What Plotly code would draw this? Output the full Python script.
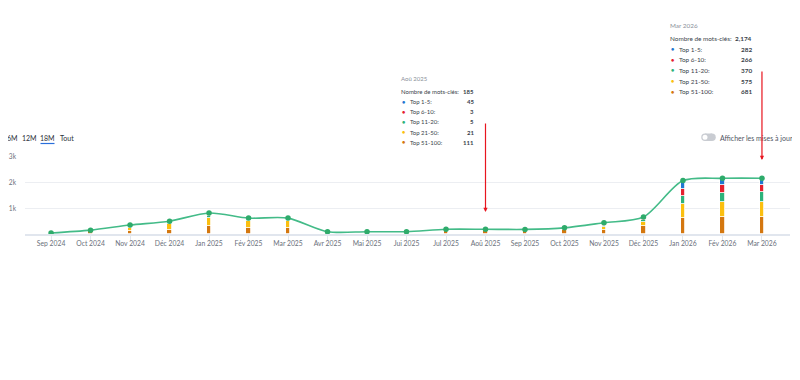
import plotly.graph_objects as go

months = ["Sep 2024", "Oct 2024", "Nov 2024", "Déc 2024", "Jan 2025", "Fév 2025", "Mar 2025",
          "Avr 2025", "Mai 2025", "Jui 2025", "Jul 2025", "Aoû 2025", "Sep 2025", "Oct 2025",
          "Nov 2025", "Déc 2025", "Jan 2026", "Fév 2026", "Mar 2026"]
total = [40, 150, 350, 500, 820, 620, 620, 90, 90, 90, 185, 185, 180, 240, 440, 660, 2080, 2170, 2174]
top_1_5 = [5, 15, 40, 40, 60, 40, 40, 12, 12, 12, 45, 45, 42, 20, 70, 70, 310, 280, 282]
top_6_10 = [2, 5, 20, 30, 50, 30, 30, 3, 3, 3, 3, 3, 3, 10, 40, 60, 300, 300, 266]
top_11_20 = [3, 10, 40, 50, 80, 50, 50, 5, 5, 5, 5, 5, 5, 20, 60, 70, 320, 350, 370]
top_21_50 = [5, 20, 150, 230, 330, 270, 270, 10, 10, 10, 21, 21, 20, 30, 120, 160, 545, 560, 575]
top_51_100 = [25, 100, 100, 150, 300, 230, 230, 60, 60, 60, 111, 111, 110, 160, 150, 300, 605, 680, 681]

series_names = ["Top 1-5:", "Top 6-10:", "Top 11-20:", "Top 21-50:", "Top 51-100:"]
series_colors = ["#1f78d1", "#e5202e", "#2db27a", "#fbbf0f", "#d4770f"]
ytick_vals = [1000, 2000, 3000]
ytick_text = ["1k", "2k", "3k"]
range_buttons = ["6M", "12M", "18M", "Tout"]

OFF = 8  # page body margin
W, H = 800 - OFF, 380 - 2 * OFF
L, T = 25 - OFF, 157 - OFF
R = W - (790 - OFF)
B = H - (234 - OFF)
PW, PH = W - L - R, H - T - B
PAD = 2  # annotation inner padding


def px(xp):
    return (xp - OFF - L) / PW


def py(yp):
    return (H - B - (yp - OFF)) / PH


fig = go.Figure()
stack = [(top_51_100, series_colors[4]), (top_21_50, series_colors[3]), (top_11_20, series_colors[2]),
         (top_6_10, series_colors[1]), (top_1_5, series_colors[0])]
for vals, col in stack:
    fig.add_trace(go.Bar(x=months, y=vals, marker=dict(color=col, line=dict(color="white", width=0.8)),
                         width=0.11, hoverinfo="skip", showlegend=False))

fig.add_trace(go.Scatter(x=months, y=total, mode="lines+markers",
                         line=dict(color="#43bb88", width=1.6, shape="spline", smoothing=0.8),
                         marker=dict(color="#2eab6b", size=5.5), hoverinfo="skip", showlegend=False))

FONT = "Lato, 'Open Sans', sans-serif"
ann = []
shapes = []

# range buttons
btn_x = [12.8, 29.2, 47.5, 66.8]
for t, xc in zip(range_buttons, btn_x):
    ann.append(dict(text=t, x=px(xc), y=py(137.5), xref="paper", yref="paper", showarrow=False,
                    xanchor="center", yanchor="middle", borderpad=0,
                    font=dict(family=FONT, size=7, color="#2b2f38")))
shapes.append(dict(type="line", xref="paper", yref="paper", x0=px(40.5), x1=px(54.5), y0=py(143.5), y1=py(143.5),
                   line=dict(color="#2a6fdb", width=1.2)))

# toggle
shapes.append(dict(type="rect", xref="paper", yref="paper", x0=px(705), x1=px(712), y0=py(133.5), y1=py(141),
                   fillcolor="#c9ccd2", line=dict(width=0)))
for cx in (705, 712):
    shapes.append(dict(type="circle", xref="paper", yref="paper", x0=px(cx - 3.75), x1=px(cx + 3.75),
                       y0=py(133.5), y1=py(141), fillcolor="#c9ccd2", line=dict(width=0)))
shapes.append(dict(type="circle", xref="paper", yref="paper", x0=px(702.5), x1=px(707.5),
                   y0=py(134.8), y1=py(139.8), fillcolor="white", line=dict(width=0)))
ann.append(dict(text="Afficher les mises à jour", x=px(720 - PAD), y=py(137.5), xref="paper", yref="paper",
                showarrow=False, xanchor="left", yanchor="middle", font=dict(family=FONT, size=7, color="#50555f")))


def tooltip(idx, title_xy, ny, row0_y, step, dot_x, lab_x, val_x, size):
    vals = [top_1_5[idx], top_6_10[idx], top_11_20[idx], top_21_50[idx], top_51_100[idx]]
    ann.append(dict(text=months[idx], x=px(title_xy[0] - PAD), y=py(title_xy[1]), xref="paper", yref="paper",
                    showarrow=False, xanchor="left", yanchor="middle",
                    font=dict(family=FONT, size=size, color="#8a8f99")))
    ann.append(dict(text="Nombre de mots-clés:", x=px(title_xy[0] - PAD), y=py(ny), xref="paper", yref="paper",
                    showarrow=False, xanchor="left", yanchor="middle",
                    font=dict(family=FONT, size=size, color="#3a3f4a")))
    ann.append(dict(text="<b>" + f"{total[idx]:,}" + "</b>", x=px(val_x + PAD), y=py(ny), xref="paper",
                    yref="paper", showarrow=False, xanchor="right", yanchor="middle",
                    font=dict(family=FONT, size=size, color="#3a3f4a")))
    for i, (nm, col, v) in enumerate(zip(series_names, series_colors, vals)):
        yy = row0_y + i * step
        ann.append(dict(text="●", x=px(dot_x), y=py(yy), xref="paper", yref="paper", showarrow=False,
                        xanchor="center", yanchor="middle", font=dict(size=5.5, color=col)))
        ann.append(dict(text=nm, x=px(lab_x - PAD), y=py(yy), xref="paper", yref="paper", showarrow=False,
                        xanchor="left", yanchor="middle", font=dict(family=FONT, size=size, color="#3a3f4a")))
        ann.append(dict(text="<b>" + f"{v:,}" + "</b>", x=px(val_x + PAD), y=py(yy), xref="paper", yref="paper",
                        showarrow=False, xanchor="right", yanchor="middle",
                        font=dict(family=FONT, size=size, color="#3a3f4a")))


tooltip(11, (401, 79), 91, 101.5, 10.2, 403.5, 409.5, 474, 6.0)
tooltip(18, (670, 25), 38.5, 49, 10.7, 672, 678.5, 751.5, 6.4)

# red arrows
for idx, head, tail in ((11, 212, 122), (18, 160, 70)):
    ann.append(dict(text="", x=months[idx], xref="x", y=py(head), yref="paper", ax=0, ay=-(head - tail),
                    showarrow=True, arrowhead=2, arrowsize=0.7, arrowwidth=1.2, arrowcolor="#e8151f"))

fig.update_layout(
    width=W, height=H, margin=dict(l=L, r=R, t=T, b=B, autoexpand=False),
    paper_bgcolor="white", plot_bgcolor="white", barmode="stack", bargap=0,
    showlegend=False, annotations=ann, shapes=shapes,
    font=dict(family=FONT),
    xaxis=dict(type="category", range=[-0.66, 18.71], showgrid=False, showline=True, linecolor="#e1e6ee",
               linewidth=1.5, ticks="outside", ticklen=5, tickwidth=1, tickcolor="#e1e6ee",
               tickfont=dict(family=FONT, size=6.8, color="#6b717c"),
               ticklabelstandoff=-3, fixedrange=True, automargin=False),
    yaxis=dict(range=[0, 3000], tickvals=ytick_vals, ticktext=ytick_text, showgrid=True, gridcolor="#eceef2",
               gridwidth=1, zeroline=False, ticks="", tickfont=dict(family=FONT, size=6.6, color="#6b717c"),
               ticklabelstandoff=8, fixedrange=True, automargin=False),
)

fig.write_html("out.html", config={"displayModeBar": False})
